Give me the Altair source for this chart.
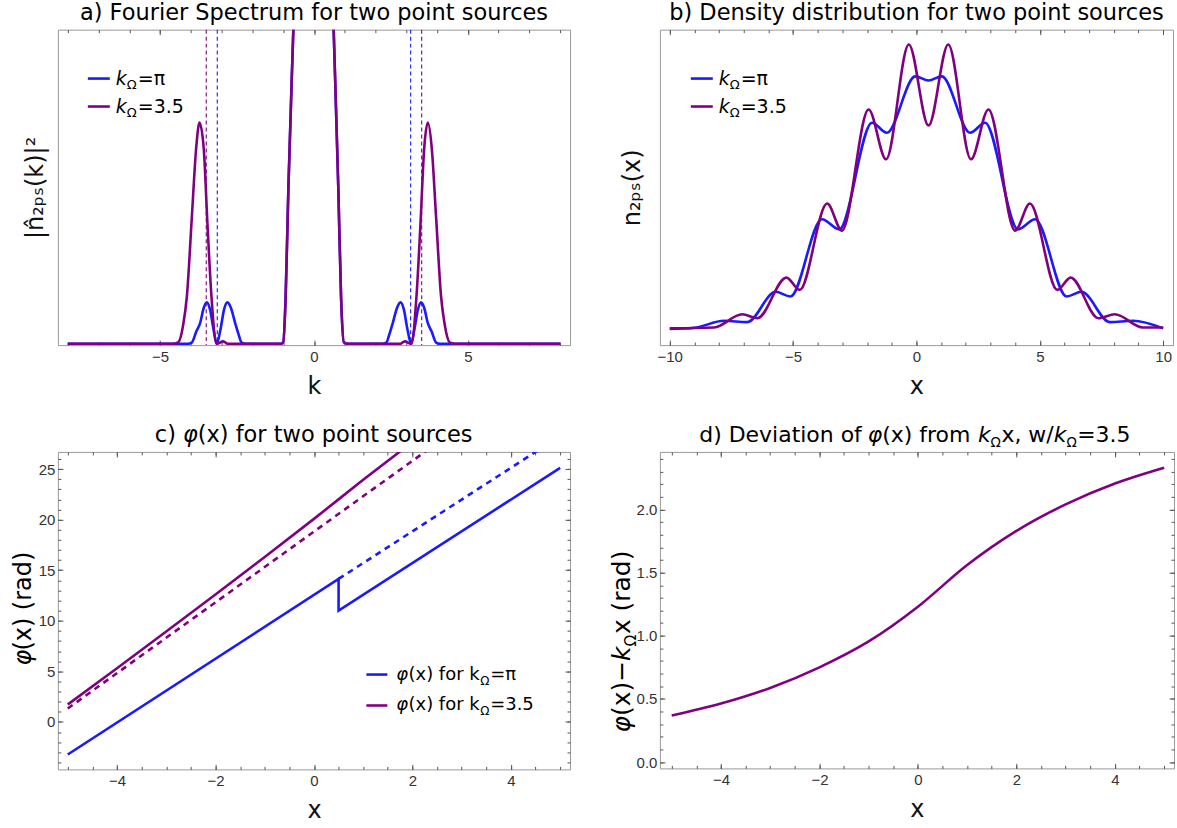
import altair as alt
import pandas as pd

BLUE = "#1a1aff"
PURPLE = "#800080"
FRAME = "#9a9a9a"
TICKC = "#555555"
LABELC = "#333333"
TITLEC = "#111111"
TFONT = "DejaVu Sans"
LFONT = "Liberation Sans"
LW = 2.6

# ---------------- panel a: Fourier spectrum ----------------
a_blue_k = [-8.0, -4.1, -3.97, -3.82, -3.70, -3.58, -3.48, -3.38, -3.27, -3.16, -3.03, -2.92, -2.81, -2.70,
            -2.56, -2.45, -2.35, -2.2, -1.1, -1.0, -0.92, -0.83, -0.67, 0.0, 0.64, 0.79, 0.88, 0.97, 1.1,
            2.2, 2.35, 2.45, 2.56, 2.70, 2.81, 2.92, 3.03, 3.16, 3.27, 3.38, 3.48, 3.58, 3.70, 3.82, 3.97, 4.1, 8.0]
a_blue_n = [0, 0, 0.004, 0.04, 0.066, 0.115, 0.132, 0.11, 0.05, 0.0, 0.05, 0.11, 0.132, 0.115,
            0.066, 0.03, 0.004, 0, 0, 0.005, 0.15, 0.5, 1.0, 3.2, 1.0, 0.5, 0.15, 0.005, 0,
            0, 0.004, 0.03, 0.066, 0.115, 0.132, 0.11, 0.05, 0.0, 0.05, 0.11, 0.132, 0.115, 0.066, 0.04, 0.004, 0, 0]
a_pur_k = [-8.0, -4.6, -4.41, -4.25, -4.13, -3.97, -3.83, -3.72, -3.58, -3.46, -3.33, -3.16, -2.95, -2.8,
           -1.1, -1.0, -0.92, -0.83, -0.67, 0.0, 0.64, 0.79, 0.88, 0.97, 1.1,
           2.8, 2.95, 3.16, 3.33, 3.46, 3.58, 3.70, 3.83, 3.97, 4.13, 4.25, 4.41, 4.6, 8.0]
a_pur_n = [0, 0, 0.005, 0.06, 0.15, 0.40, 0.62, 0.704, 0.62, 0.38, 0.15, 0.0, 0.008, 0.0,
           0, 0.005, 0.15, 0.5, 1.0, 3.2, 1.0, 0.5, 0.15, 0.005, 0,
           0.0, 0.008, 0.0, 0.15, 0.38, 0.62, 0.704, 0.62, 0.40, 0.15, 0.06, 0.005, 0, 0]
a_dash_k = [-3.5, -3.1416, 3.1416, 3.5]
a_dash_s = ["3.5", "pi", "pi", "3.5"]

# ---------------- panel b: density ----------------
b_pur_x = [-10, -8.2, -7.06, -6.45, -5.27, -4.73, -3.62, -3.02, -1.94, -1.23, -0.31, 0.49, 1.29, 2.21,
           2.92, 4.0, 4.6, 5.71, 6.25, 7.38, 8.04, 9.18, 10]
b_pur_y = [0.053, 0.056, 0.098, 0.085, 0.214, 0.175, 0.449, 0.363, 0.747, 0.589, 0.953, 0.696, 0.953, 0.589,
           0.747, 0.363, 0.449, 0.175, 0.214, 0.085, 0.098, 0.056, 0.056]
b_blue_x = [-10, -9.0, -7.8, -6.86, -5.71, -5.11, -3.83, -3.13, -1.80, -1.20, -0.05, 0.49, 1.03, 2.18,
            2.78, 4.12, 4.81, 6.09, 6.69, 7.84, 8.78, 10]
b_blue_y = [0.051, 0.055, 0.077, 0.073, 0.169, 0.154, 0.399, 0.367, 0.705, 0.673, 0.852, 0.839, 0.852, 0.673,
            0.705, 0.367, 0.399, 0.154, 0.169, 0.073, 0.077, 0.053]

# ---------------- panel c: phase ----------------
c_blue_x = [-5.0, 0.5, 0.5, 5.0]
c_blue_y = [-3.23, 14.14, 11.0, 25.13]
c_blue_dash_x = [0.5, 5.0]
c_blue_dash_y = [14.14, 28.27]
c_pur_x = [-5, -4, -3, -2, -1, 0, 1, 2]
c_pur_y = [1.72, 5.31, 8.94, 12.6, 16.3, 20.08, 23.94, 27.69]
c_pur_dash_x = [-5.0, 2.5]
c_pur_dash_y = [1.32, 27.57]

# ---------------- panel d: deviation ----------------
d_x = [-5, -4, -3, -2, -1, 0, 1, 2, 3, 4, 5]
d_y = [0.368, 0.463, 0.587, 0.75, 0.955, 1.23, 1.56, 1.83, 2.04, 2.205, 2.33]

ONE = pd.DataFrame({"v": [0]})


def line_layer(xs, ys, color, xsc, ysc, dash=None, width=LW, interp="monotone"):
    kw = dict(color=color, strokeWidth=width, clip=True, interpolate=interp)
    if dash:
        kw["strokeDash"] = dash
    df = pd.DataFrame({"x": xs, "y": ys, "i": list(range(len(xs)))})
    return alt.Chart(df).mark_line(**kw).encode(
        x=alt.X("x:Q", scale=xsc, axis=None),
        y=alt.Y("y:Q", scale=ysc, axis=None),
        order="i:Q",
    )


def axis_layers(xsc, ysc, xdom, ydom, xmaj, xmin, ymaj, ymin, xtitle, ytitle,
                yfmt="d", yticks=True, ytitlepad=4):
    d = pd.DataFrame({"x": [xdom[0]], "y": [ydom[0]]})
    com = dict(domain=False, grid=False, tickColor=TICKC, tickWidth=1, labelFlush=False, labelOverlap=False)
    tit = dict(titleFont=TFONT, titleFontSize=24, titleFontWeight="normal", titleColor=TITLEC)
    lab = dict(labelFont=LFONT, labelFontSize=15, labelColor=LABELC)
    out = []
    xa1 = alt.Axis(orient="bottom", values=xmaj, tickSize=5, offset=-5, labels=True, labelPadding=4,
                   format="d", title=xtitle, titlePadding=10, **lab, **tit, **com)
    if yticks:
        ya1 = alt.Axis(orient="left", values=ymaj, tickSize=5, offset=-5, labels=True, labelPadding=3,
                       format=yfmt, title=ytitle, titlePadding=ytitlepad, **lab, **tit, **com)
    else:
        ya1 = alt.Axis(orient="left", values=[], ticks=False, labels=False, title=ytitle,
                       titlePadding=ytitlepad, **tit, **com)
    out.append(alt.Chart(d).mark_point(opacity=0).encode(
        x=alt.X("x:Q", scale=xsc, axis=xa1), y=alt.Y("y:Q", scale=ysc, axis=ya1)))
    specs = [("bottom", "left", xmin, ymin, 3), ("top", "right", xmaj, ymaj, 5), ("top", "right", xmin, ymin, 3)]
    for xo, yo, xv, yv, ts in specs:
        xa = alt.Axis(orient=xo, values=xv, tickSize=ts, offset=-ts, labels=False, title=None, **com)
        if yticks:
            ya = alt.Axis(orient=yo, values=yv, tickSize=ts, offset=-ts, labels=False, title=None, **com)
            yenc = alt.Y("y:Q", scale=ysc, axis=ya)
        else:
            yenc = alt.Y("y:Q", scale=ysc, axis=None)
        out.append(alt.Chart(d).mark_point(opacity=0).encode(x=alt.X("x:Q", scale=xsc, axis=xa), y=yenc))
    return out


def text_piece(txt, x, y, size, style="normal", color="#000000", baseline="middle", angle=0, dy=0,
               align="left"):
    kw = dict(text=txt, font=TFONT, fontSize=size, fontStyle=style, color=color,
              align=align, baseline=baseline)
    if angle:
        kw["angle"] = angle
    if dy:
        kw["dy"] = dy
    return alt.Chart(ONE).mark_text(**kw).encode(x=alt.value(x), y=alt.value(y))


def legend_line(x1, x2, y, color):
    return alt.Chart(ONE).mark_rule(color=color, strokeWidth=LW).encode(
        x=alt.value(x1), x2=alt.value(x2), y=alt.value(y))


def k_legend(x0, y0, color, tail, size=19):
    return [
        legend_line(x0 - 28, x0 - 6, y0, color),
        text_piece("k", x0, y0, size, "italic"),
        text_piece("Ω", x0 + 11, y0 + 6, 13),
        text_piece(tail, x0 + 22, y0, size),
    ]


def ptitle(t):
    return alt.Title(t, anchor="middle", frame="group", offset=5, font=TFONT, fontSize=22.5,
                     fontWeight="normal", color="#000000")


# ---------- panel a ----------
xa_dom = [-8.32, 8.32]
ya_dom = [-0.004, 1.0]
xsa = alt.Scale(domain=xa_dom, nice=False, zero=False)
ysa = alt.Scale(domain=ya_dom, nice=False, zero=False)
dash_df = pd.DataFrame({"k": a_dash_k, "s": a_dash_s})
dash_a = alt.Chart(dash_df).mark_rule(strokeWidth=1.1, strokeDash=[4, 3]).encode(
    x=alt.X("k:Q", scale=xsa, axis=None),
    color=alt.Color("s:N", scale=alt.Scale(domain=["pi", "3.5"], range=[BLUE, PURPLE]), legend=None),
)
anchor = alt.Chart(ONE).mark_rule(stroke="#ffffff", strokeOpacity=0, strokeWidth=1).encode(
    x=alt.value(-57), x2=alt.value(-56), y=alt.value(20))
panel_a = alt.layer(
    *axis_layers(xsa, ysa, xa_dom, ya_dom, [-5, 0, 5], list(range(-8, 9)), [], [], "k",
                 "|n̂₂ₚₛ(k)|²", yticks=False, ytitlepad=10),
    dash_a,
    line_layer(a_blue_k, a_blue_n, BLUE, xsa, ysa),
    line_layer(a_pur_k, a_pur_n, PURPLE, xsa, ysa),
    *k_legend(58, 49, BLUE, "=π"),
    *k_legend(58, 77, PURPLE, "=3.5"),
    anchor,
).properties(width=513, height=316, title=ptitle("a) Fourier Spectrum for two point sources")).resolve_axis(
    x="independent", y="independent")

# ---------- panel b ----------
xb_dom = [-10.4, 10.4]
yb_dom = [0.0, 1.0]
xsb = alt.Scale(domain=xb_dom, nice=False, zero=False)
ysb = alt.Scale(domain=yb_dom, nice=False, zero=False)
panel_b = alt.layer(
    *axis_layers(xsb, ysb, xb_dom, yb_dom, [-10, -5, 0, 5, 10], list(range(-10, 11)), [], [], "x",
                 "n₂ₚₛ(x)", yticks=False, ytitlepad=15),
    line_layer(b_blue_x, b_blue_y, BLUE, xsb, ysb),
    line_layer(b_pur_x, b_pur_y, PURPLE, xsb, ysb),
    *k_legend(59, 49, BLUE, "=π"),
    *k_legend(59, 77, PURPLE, "=3.5"),
).properties(width=514, height=316, title=ptitle("b) Density distribution for two point sources")).resolve_axis(
    x="independent", y="independent")

# ---------- panel c ----------
xc_dom = [-5.2, 5.2]
yc_dom = [-4.7, 26.7]
xsc = alt.Scale(domain=xc_dom, nice=False, zero=False)
ysc = alt.Scale(domain=yc_dom, nice=False, zero=False)
xc_minor = [v / 2 for v in range(-10, 11)]
yc_minor = list(range(-4, 27))


def c_legend(x0, y0, color, tail):
    return [
        legend_line(x0 - 30, x0 - 9, y0, color),
        text_piece("φ", x0, y0, 18, "italic"),
        text_piece("(x) for k", x0 + 12.2, y0, 18),
        text_piece("Ω", x0 + 84, y0 + 6, 12),
        text_piece(tail, x0 + 94, y0, 18),
    ]


c_title = [
    text_piece("c)", 97.1, -10, 22.5, baseline="alphabetic"),
    text_piece("φ", 125.4, -10, 22.5, "italic", baseline="alphabetic"),
    text_piece("(x) for two point sources", 140.1, -10, 22.5, baseline="alphabetic"),
]
CX = -27
c_ytitle = [
    text_piece("φ", CX, 214, 24, "italic", baseline="alphabetic", angle=270),
    text_piece("(x) (rad)", CX, 199, 24, baseline="alphabetic", angle=270),
]

panel_c = alt.layer(
    *axis_layers(xsc, ysc, xc_dom, yc_dom, [-4, -2, 0, 2, 4], xc_minor, [0, 5, 10, 15, 20, 25], yc_minor,
                 "x", None, yfmt="d", ytitlepad=5),
    line_layer(c_pur_dash_x, c_pur_dash_y, PURPLE, xsc, ysc, dash=[6, 5], interp="linear"),
    line_layer(c_pur_x, c_pur_y, PURPLE, xsc, ysc),
    line_layer(c_blue_dash_x, c_blue_dash_y, BLUE, xsc, ysc, dash=[6, 5], interp="linear"),
    line_layer(c_blue_x, c_blue_y, BLUE, xsc, ysc, interp="linear"),
    *c_legend(339, 223, BLUE, "=π"),
    *c_legend(339, 254, PURPLE, "=3.5"),
    *c_title,
    *c_ytitle,
).properties(width=513, height=318).resolve_axis(x="independent", y="independent")

# ---------- panel d ----------
xd_dom = [-5.24, 5.2]
yd_dom = [-0.05, 2.455]
xsd = alt.Scale(domain=xd_dom, nice=False, zero=False)
ysd = alt.Scale(domain=yd_dom, nice=False, zero=False)
yd_minor = [v / 10 for v in range(0, 25)]

TS = 22
d_title = [
    text_piece("d) Deviation of", 202.3, -10, TS, baseline="alphabetic", align="right"),
    text_piece("φ", 208.3, -10, TS, "italic", baseline="alphabetic"),
    text_piece("(x) from", 222.7, -10, TS, baseline="alphabetic"),
    text_piece("k", 318.6, -10, TS, "italic", baseline="alphabetic"),
    text_piece("Ω", 331.3, -5, 13.5, baseline="alphabetic"),
    text_piece("x, w/", 342.1, -10, TS, baseline="alphabetic"),
    text_piece("k", 394.5, -10, TS, "italic", baseline="alphabetic"),
    text_piece("Ω", 407.2, -5, 13.5, baseline="alphabetic"),
    text_piece("=3.5", 418.0, -10, TS, baseline="alphabetic"),
]
YX = -30
d_ytitle = [
    text_piece("φ", YX, 281, 25, "italic", baseline="alphabetic", angle=270),
    text_piece("(x)−", YX, 264.6, 25, baseline="alphabetic", angle=270),
    text_piece("k", YX, 209.3, 25, "italic", baseline="alphabetic", angle=270),
    text_piece("Ω", YX, 194.8, 15.5, baseline="alphabetic", angle=270, dy=6),
    text_piece("x (rad)", YX, 182.5, 25, baseline="alphabetic", angle=270),
]

panel_d = alt.layer(
    *axis_layers(xsd, ysd, xd_dom, yd_dom, [-4, -2, 0, 2, 4], xc_minor, [0, 0.5, 1.0, 1.5, 2.0], yd_minor,
                 "x", None, yfmt=".1f", ytitlepad=3),
    line_layer(d_x, d_y, PURPLE, xsd, ysd),
    *d_title,
    *d_ytitle,
).properties(width=515, height=317).resolve_axis(x="independent", y="independent")

chart = alt.concat(panel_a, panel_b, panel_c, panel_d, columns=2, spacing={"row": 107, "column": 90},
                   bounds="flush").properties(
    padding={"left": 0, "top": 0, "right": 2, "bottom": 2}, background="white"
).configure_view(stroke=FRAME, strokeWidth=1)

chart.save("out.html", embed_options={"renderer": "svg", "actions": False})
